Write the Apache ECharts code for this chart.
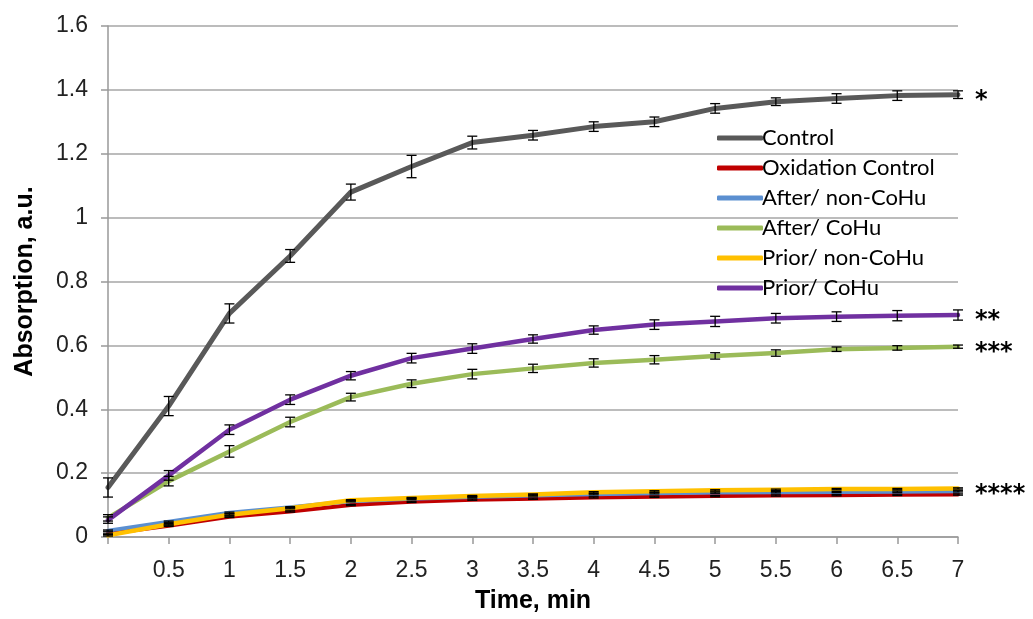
<!DOCTYPE html>
<html>
<head>
<meta charset="utf-8">
<script src="https://cdn.jsdelivr.net/npm/echarts@6/dist/echarts.min.js"></script>
<style>
  html, body { margin: 0; padding: 0; background: #fff; }
  #chart { width: 1033px; height: 619px; }
</style>
</head>
<body>
<div id="chart"></div>
<script>
const times = [0, 0.5, 1, 1.5, 2, 2.5, 3, 3.5, 4, 4.5, 5, 5.5, 6, 6.5, 7]

const control = [0.155, 0.41, 0.70, 0.88, 1.08, 1.16, 1.235, 1.258, 1.285, 1.30, 1.342, 1.363, 1.373, 1.382, 1.385]
const controlErr = [0.03, 0.03, 0.03, 0.02, 0.025, 0.035, 0.02, 0.015, 0.015, 0.015, 0.015, 0.012, 0.015, 0.015, 0.012]

const oxidation = [0.01, 0.035, 0.063, 0.08, 0.10, 0.11, 0.117, 0.12, 0.124, 0.126, 0.128, 0.13, 0.131, 0.132, 0.133]
const afterNon = [0.02, 0.048, 0.076, 0.093, 0.112, 0.12, 0.125, 0.13, 0.134, 0.137, 0.139, 0.14, 0.141, 0.142, 0.143]
const afterCoHu = [0.06, 0.175, 0.268, 0.36, 0.438, 0.48, 0.51, 0.528, 0.545, 0.555, 0.567, 0.576, 0.588, 0.592, 0.596]
const afterCoHuErr = [0.01, 0.015, 0.018, 0.015, 0.012, 0.012, 0.015, 0.013, 0.013, 0.013, 0.01, 0.01, 0.007, 0.007, 0.005]
const priorNon = [0.005, 0.04, 0.07, 0.09, 0.115, 0.122, 0.128, 0.133, 0.14, 0.143, 0.146, 0.148, 0.15, 0.15, 0.152]
const priorCoHu = [0.053, 0.193, 0.336, 0.43, 0.505, 0.56, 0.59, 0.62, 0.648, 0.665, 0.675, 0.685, 0.69, 0.693, 0.695]
const priorCoHuErr = [0.01, 0.015, 0.015, 0.015, 0.013, 0.015, 0.015, 0.013, 0.013, 0.015, 0.016, 0.015, 0.015, 0.016, 0.016]
const lowErr = [0.002, 0.002, 0.002, 0.002, 0.002, 0.002, 0.002, 0.002, 0.002, 0.002, 0.002, 0.002, 0.002, 0.002, 0.002]

const yTicks = [0, 0.2, 0.4, 0.6, 0.8, 1, 1.2, 1.4, 1.6]

const pairs = (ys) => times.map((t, i) => [t, ys[i]])

const lineSeries = (name, ys, color, width, star) => ({
  name,
  type: 'line',
  data: pairs(ys),
  symbol: 'none',
  smooth: false,
  lineStyle: { color, width, cap: 'round', join: 'round' },
  itemStyle: { color },
  emphasis: { disabled: true },
  endLabel: star ? {
    show: true,
    formatter: star,
    color: '#000',
    fontSize: 24,
    fontWeight: 'bold',
    fontFamily: 'DejaVu Sans',
    distance: 17,
    offset: [0, 6],
  } : { show: false },
})

const errRows = []
;[[control, controlErr], [afterCoHu, afterCoHuErr], [priorCoHu, priorCoHuErr],
  [oxidation, lowErr], [afterNon, lowErr], [priorNon, lowErr]].forEach(([ys, es]) => {
  times.forEach((t, i) => errRows.push([t, ys[i] - es[i], ys[i] + es[i]]))
})

const chart = echarts.init(document.getElementById('chart'))
chart.setOption({
  animation: false,
  grid: { left: 108, right: 75, top: 26, bottom: 79 },
  legend: {
    orient: 'vertical',
    left: 712,
    top: 122,
    itemGap: 8,
    itemWidth: 46,
    itemHeight: 5,
    icon: 'roundRect',
    textStyle: { color: '#000', fontSize: 22, lineHeight: 22, fontFamily: 'Lato', padding: [0, 0, 0, -6] },
    data: ['Control', 'Oxidation Control', 'After/ non-CoHu', 'After/ CoHu', 'Prior/ non-CoHu', 'Prior/ CoHu'],
  },
  xAxis: {
    type: 'value',
    min: 0,
    max: 7,
    interval: 0.5,
    name: 'Time, min',
    nameLocation: 'middle',
    nameGap: 52,
    nameTextStyle: { color: '#000', fontSize: 25, fontWeight: 'bold', fontFamily: 'Liberation Sans' },
    axisLine: { lineStyle: { color: '#999', width: 1.5 } },
    axisTick: { show: true, length: 7, lineStyle: { color: '#999', width: 1.5 } },
    axisLabel: {
      color: '#222', fontSize: 23, fontFamily: 'Liberation Sans', margin: 22,
      formatter: (v) => (v === 0 ? '' : String(v)),
    },
    splitLine: { show: false },
  },
  yAxis: {
    type: 'value',
    min: yTicks[0],
    max: yTicks[yTicks.length - 1],
    interval: 0.2,
    name: 'Absorption, a.u.',
    nameLocation: 'middle',
    nameGap: 70,
    nameTextStyle: { color: '#000', fontSize: 25, fontWeight: 'bold', fontFamily: 'Liberation Sans' },
    axisLine: { show: true, lineStyle: { color: '#999', width: 1.5 } },
    axisTick: { show: true, length: 7, lineStyle: { color: '#999', width: 1.5 } },
    axisLabel: {
      color: '#222', fontSize: 23, fontFamily: 'Liberation Sans', margin: 20,
      formatter: (v) => String(Math.round(v * 10) / 10),
    },
    splitLine: { lineStyle: { color: '#a6a6a6', width: 1.5 } },
  },
  series: [
    lineSeries('Control', control, '#595959', 5, '*'),
    lineSeries('Oxidation Control', oxidation, '#c00000', 4, null),
    lineSeries('After/ non-CoHu', afterNon, '#5b8fd0', 4, null),
    lineSeries('After/ CoHu', afterCoHu, '#9bbb59', 4.5, '***'),
    lineSeries('Prior/ non-CoHu', priorNon, '#ffc000', 4.5, '****'),
    lineSeries('Prior/ CoHu', priorCoHu, '#7030a0', 4.5, '**'),
    {
      type: 'custom',
      silent: true,
      z: 5,
      data: errRows,
      encode: { x: 0, y: [1, 2] },
      renderItem: (params, api) => {
        const lo = api.coord([api.value(0), api.value(1)])
        const hi = api.coord([api.value(0), api.value(2)])
        const w = 5
        const style = { stroke: '#000', lineWidth: 1.3 }
        return {
          type: 'group',
          children: [
            { type: 'line', shape: { x1: lo[0], y1: lo[1], x2: hi[0], y2: hi[1] }, style },
            { type: 'line', shape: { x1: lo[0] - w, y1: lo[1], x2: lo[0] + w, y2: lo[1] }, style },
            { type: 'line', shape: { x1: hi[0] - w, y1: hi[1], x2: hi[0] + w, y2: hi[1] }, style },
          ],
        }
      },
    },
  ],
})
</script>
</body>
</html>
